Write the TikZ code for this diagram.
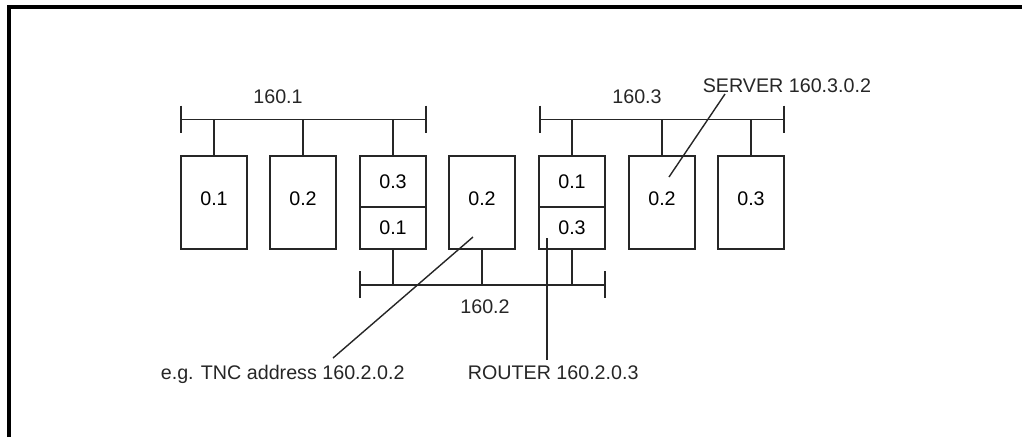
\documentclass[tikz,border=0pt]{standalone}
\usepackage{fontspec}
\setmainfont{Liberation Sans}
\usetikzlibrary{positioning}

\begin{document}
\begin{tikzpicture}[
    x=0.025cm, y=-0.025cm,
    line width=1.2pt, draw=black!85,
    font=\fontsize{14}{16}\selectfont,
    host/.style={draw=black!85, minimum width=1.65cm, minimum height=2.325cm, inner sep=0pt, text depth=6pt},
    tophalf/.style={draw=black!85, minimum width=1.65cm, minimum height=1.275cm, inner sep=0pt},
    bothalf/.style={draw=black!85, minimum width=1.65cm, minimum height=1.05cm, inner sep=0pt},
    tick/.style={line width=1.2pt},
    lbl/.style={anchor=base, inner sep=0pt, text=black!85},
  ]
    \useasboundingbox (0,0) rectangle (1022,437);
    \draw[black, line width=2.2pt] (9,437) -- (9,7) -- (1022,7);

    % hosts
    \node[host] (a1) at (214,202.5) {0.1};
    \node[host] (a2) at (303,202.5) {0.2};
    \node[tophalf] (a3t) at (393,181.5) {0.3};
    \node[bothalf] (a3b) at (393,228) {0.1};
    \node[host] (tnc) at (482,202.5) {0.2};
    \node[tophalf] (r1t) at (572,181.5) {0.1};
    \node[bothalf] (r1b) at (572,228) {0.3};
    \node[host] (srv) at (662,202.5) {0.2};
    \node[host] (b3) at (751,202.5) {0.3};

    % buses
    \coordinate (n1w) at (181,119.5); \coordinate (n1e) at (426,119.5);
    \coordinate (n3w) at (540,119.5); \coordinate (n3e) at (784,119.5);
    \coordinate (n2w) at (360,285);   \coordinate (n2e) at (605,285);
    \foreach \w/\e in {n1w/n1e, n3w/n3e, n2w/n2e} {
      \draw (\w) -- (\e);
      \draw[tick] (\w) ++(0,-14) -- ++(0,27);
      \draw[tick] (\e) ++(0,-14) -- ++(0,27);
    }
    \node[lbl] (l1) at (278,103) {160.1};
    \node[lbl] (l3) at (637,103) {160.3};
    \node[lbl] (l2) at (485,313) {160.2};

    % stubs
    \foreach \h in {a1,a2,a3t} \draw (\h.north) -- (\h.north |- n1w);
    \foreach \h in {r1t,srv,b3} \draw (\h.north) -- (\h.north |- n3w);
    \foreach \h in {a3b,tnc,r1b} \draw (\h.south) -- (\h.south |- n2w);

    % callouts
    \node[lbl, anchor=base west] (svtxt) at (702,92) {SERVER 160.3.0.2};
    \node[lbl, anchor=base west] (tnctxt) at (160,379) {e.g. TNC address 160.2.0.2};
    \node[lbl, anchor=base west] (rttxt) at (467,379) {ROUTER 160.2.0.3};
    \coordinate (svfoot) at (725,94);  \coordinate (svtip) at (669,177);
    \coordinate (tncfoot) at (333,358); \coordinate (tnctip) at (473,237);
    \coordinate (rtfoot) at (547,360);  \coordinate (rttip) at (547,238);
    \draw[line width=1pt] (svfoot) -- (svtip);
    \draw[line width=1pt] (tncfoot) -- (tnctip);
    \draw[line width=1pt] (rtfoot) -- (rttip);
\end{tikzpicture}
\end{document}
